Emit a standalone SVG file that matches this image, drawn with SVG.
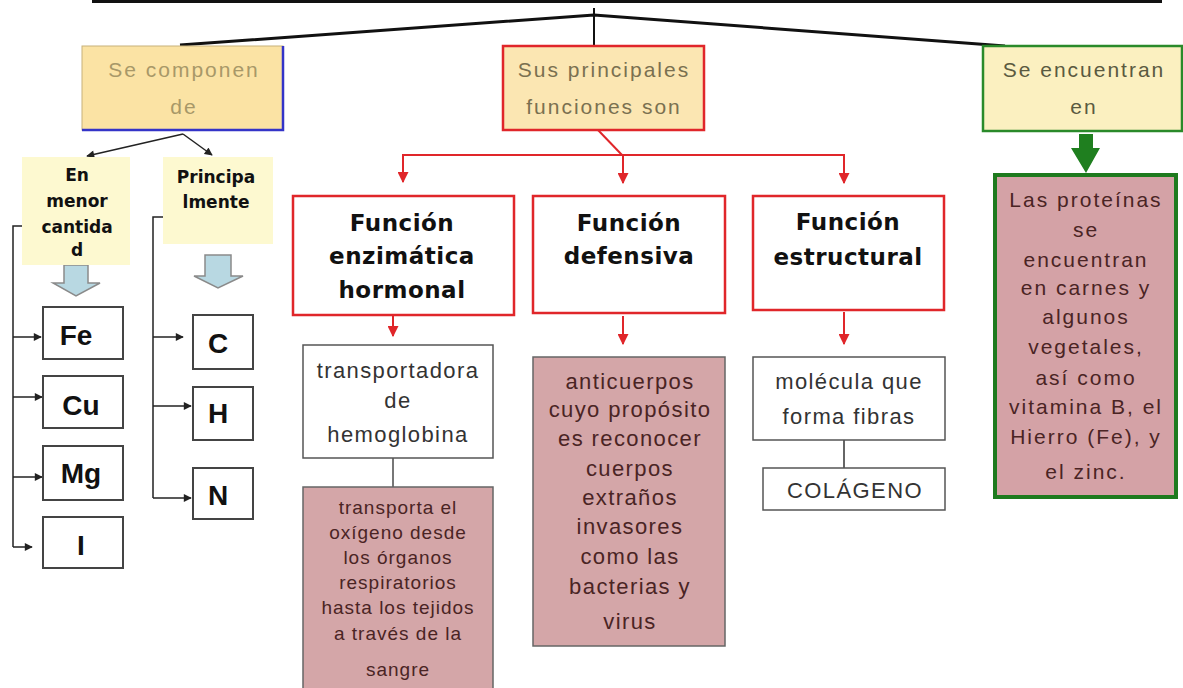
<svg xmlns="http://www.w3.org/2000/svg" width="1183" height="688" viewBox="0 0 1183 688">
<defs>
<marker id="ra" viewBox="0 0 10 10" refX="9" refY="5" markerWidth="11" markerHeight="11" markerUnits="userSpaceOnUse" orient="auto"><path d="M0,0 L10,5 L0,10 z" fill="#e0262a"/></marker>
<marker id="ba" viewBox="0 0 10 10" refX="9" refY="5" markerWidth="9" markerHeight="8" markerUnits="userSpaceOnUse" orient="auto"><path d="M0,0 L10,5 L0,10 z" fill="#222"/></marker>
</defs>
<style>
.t{font-family:"Liberation Sans",Arial,sans-serif;text-anchor:middle}
.top{font-size:21px;letter-spacing:2px}
.body{font-size:22px;letter-spacing:1.4px;fill:#333}
.pink{font-size:22px;letter-spacing:1.4px;fill:#4a2424}
.small{font-size:19px;letter-spacing:1px;fill:#4a2424}
.grn{font-size:21px;letter-spacing:2px;fill:#4a2424}
.fn{font-family:"DejaVu Sans",Verdana,sans-serif;font-weight:bold;font-size:23px;letter-spacing:0.5px;text-anchor:middle;fill:#111}
.lbl{font-family:"DejaVu Sans",Verdana,sans-serif;font-weight:bold;font-size:17px;text-anchor:middle;fill:#111}
.el{font-family:"Liberation Sans",Arial,sans-serif;font-weight:bold;font-size:28px;text-anchor:middle;fill:#111}
.elbox{fill:#fff;stroke:#444;stroke-width:2}
.wbox{fill:#fff;stroke:#555;stroke-width:1.5}
.pbox{fill:#d4a6a8;stroke:#666;stroke-width:1.5}
.fbox{fill:#fff;stroke:#e0262a;stroke-width:2.5}
.red{stroke:#e0262a;stroke-width:2;fill:none}
.blk{stroke:#222;stroke-width:1.5;fill:none}
.barrow{fill:#b8d8e2;stroke:#8a8a8a;stroke-width:1.5}
</style>
<rect width="1183" height="688" fill="#fff"/>

<g id="connectors">
<line x1="92" y1="1.5" x2="1162" y2="1.5" stroke="#111" stroke-width="3"/>
<line x1="594" y1="8" x2="594" y2="46" stroke="#111" stroke-width="2"/>
<polyline points="180,45 594,15 1005,46" fill="none" stroke="#111" stroke-width="3"/>
<line x1="183" y1="134" x2="87" y2="156" class="blk" marker-end="url(#ba)"/>
<line x1="183" y1="134" x2="212" y2="155" class="blk" marker-end="url(#ba)"/>
<polyline points="34,226 13,226 13,547" class="blk"/>
<line x1="13" y1="337" x2="41" y2="337" class="blk" marker-end="url(#ba)"/>
<line x1="13" y1="397" x2="42" y2="397" class="blk" marker-end="url(#ba)"/>
<line x1="13" y1="477" x2="42" y2="477" class="blk" marker-end="url(#ba)"/>
<line x1="13" y1="547" x2="32" y2="547" class="blk" marker-end="url(#ba)"/>
<polyline points="173,217 153,217 153,498" class="blk"/>
<line x1="153" y1="337" x2="183" y2="337" class="blk" marker-end="url(#ba)"/>
<line x1="153" y1="406" x2="191" y2="406" class="blk" marker-end="url(#ba)"/>
<line x1="153" y1="498" x2="191" y2="498" class="blk" marker-end="url(#ba)"/>
<path d="M64,265 H88 V283 H100 L76,296 L53,283 H64 Z" class="barrow"/>
<path d="M205,255 H231 V276 H243 L218,288 L194,276 H205 Z" class="barrow"/>
<line x1="598" y1="130" x2="622" y2="155" class="red"/>
<polyline points="403,181 403,155 844,155 844,181" class="red"/>
<line x1="403" y1="160" x2="403" y2="182" class="red" marker-end="url(#ra)"/>
<line x1="623" y1="155" x2="623" y2="183" class="red" marker-end="url(#ra)"/>
<line x1="844" y1="160" x2="844" y2="183" class="red" marker-end="url(#ra)"/>
<line x1="393" y1="316" x2="393" y2="336" class="red" stroke-width="2.5" marker-end="url(#ra)"/>
<line x1="623" y1="316" x2="623" y2="344" class="red" stroke-width="2.5" marker-end="url(#ra)"/>
<line x1="844" y1="312" x2="844" y2="344" class="red" stroke-width="2.5" marker-end="url(#ra)"/>
<line x1="393" y1="458" x2="393" y2="487" stroke="#777" stroke-width="2"/>
<line x1="844" y1="440" x2="844" y2="468" stroke="#333" stroke-width="1.5"/>
<path d="M1079,134 H1093 V148 H1100 L1086,173 L1071,148 H1079 Z" fill="#1f7f1f"/>
</g>

<g id="se-componen">
<rect x="82" y="46" width="201" height="84" fill="#fbe3a4" stroke="#c8b27a" stroke-width="1"/>
<polyline points="283,46 283,130 82,130" fill="none" stroke="#3434c8" stroke-width="2.5"/>
<text class="t top" x="184" y="77" fill="#a89868">Se componen</text>
<text class="t top" x="184" y="114" fill="#a89868">de</text>
</g>

<g id="sus-principales">
<rect x="503" y="46" width="201" height="84" fill="#fbe6b2" stroke="#e0262a" stroke-width="2.5"/>
<text class="t top" x="604" y="77" fill="#7a7050">Sus principales</text>
<text class="t top" x="604" y="114" fill="#7a7050">funciones son</text>
</g>

<g id="se-encuentran">
<rect x="983" y="46" width="199" height="85" fill="#fbf0c0" stroke="#2a8a2a" stroke-width="2.5"/>
<text class="t top" x="1084" y="77" fill="#5a5a40">Se encuentran</text>
<text class="t top" x="1084" y="114" fill="#5a5a40">en</text>
</g>

<g id="en-menor-cantidad">
<rect x="22" y="157" width="108" height="108" fill="#fdf9d0"/>
<text class="lbl" x="77" y="181">En</text>
<text class="lbl" x="77" y="207">menor</text>
<text class="lbl" x="77" y="233">cantida</text>
<text class="lbl" x="77" y="256">d</text>
</g>

<g id="principalmente">
<rect x="163" y="157" width="110" height="87" fill="#fdf9d0"/>
<text class="lbl" x="216" y="183">Principa</text>
<text class="lbl" x="216" y="208">lmente</text>
</g>

<g id="fe"><rect x="43" y="307" width="80" height="52" class="elbox"/><text class="el" x="76" y="345">Fe</text></g>
<g id="cu"><rect x="43" y="376" width="80" height="52" class="elbox"/><text class="el" x="81" y="415">Cu</text></g>
<g id="mg"><rect x="43" y="446" width="80" height="54" class="elbox"/><text class="el" x="81" y="483">Mg</text></g>
<g id="i"><rect x="43" y="517" width="80" height="51" class="elbox"/><text class="el" x="81" y="555">I</text></g>
<g id="c"><rect x="193" y="315" width="60" height="54" class="elbox"/><text class="el" x="218" y="353">C</text></g>
<g id="h"><rect x="193" y="387" width="60" height="53" class="elbox"/><text class="el" x="218" y="423">H</text></g>
<g id="n"><rect x="193" y="468" width="60" height="51" class="elbox"/><text class="el" x="218" y="505">N</text></g>

<g id="funcion-enzimatica">
<rect x="293" y="196" width="221" height="119" class="fbox"/>
<text class="fn" x="402" y="231">Función</text>
<text class="fn" x="402" y="264">enzimática</text>
<text class="fn" x="402" y="298">hormonal</text>
</g>

<g id="funcion-defensiva">
<rect x="533" y="196" width="192" height="117" class="fbox"/>
<text class="fn" x="629" y="231">Función</text>
<text class="fn" x="629" y="264">defensiva</text>
</g>

<g id="funcion-estructural">
<rect x="753" y="196" width="191" height="114" class="fbox"/>
<text class="fn" x="848" y="230">Función</text>
<text class="fn" x="848" y="265">estructural</text>
</g>

<g id="transportadora">
<rect x="303" y="345" width="190" height="113" class="wbox"/>
<text class="t body" x="398" y="378">transportadora</text>
<text class="t body" x="398" y="408">de</text>
<text class="t body" x="398" y="442">hemoglobina</text>
</g>

<g id="transporta-oxigeno">
<rect x="303" y="487" width="190" height="210" class="pbox"/>
<text class="t small" x="398" y="514">transporta el</text>
<text class="t small" x="398" y="539">oxígeno desde</text>
<text class="t small" x="398" y="564">los órganos</text>
<text class="t small" x="398" y="589">respiratorios</text>
<text class="t small" x="398" y="614">hasta los tejidos</text>
<text class="t small" x="398" y="640">a través de la</text>
<text class="t small" x="398" y="676">sangre</text>
</g>

<g id="anticuerpos">
<rect x="533" y="357" width="192" height="289" class="pbox"/>
<text class="t pink" x="630" y="389">anticuerpos</text>
<text class="t pink" x="630" y="417">cuyo propósito</text>
<text class="t pink" x="630" y="446">es reconocer</text>
<text class="t pink" x="630" y="476">cuerpos</text>
<text class="t pink" x="630" y="505">extraños</text>
<text class="t pink" x="630" y="534">invasores</text>
<text class="t pink" x="630" y="564">como las</text>
<text class="t pink" x="630" y="594">bacterias y</text>
<text class="t pink" x="630" y="629">virus</text>
</g>

<g id="molecula">
<rect x="753" y="357" width="192" height="83" class="wbox"/>
<text class="t body" x="849" y="389">molécula que</text>
<text class="t body" x="849" y="424">forma fibras</text>
</g>

<g id="colageno">
<rect x="763" y="468" width="182" height="42" class="wbox" stroke="#333"/>
<text class="t body" x="855" y="498">COLÁGENO</text>
</g>

<g id="proteinas">
<rect x="995" y="175" width="181" height="322" fill="#d4a2a6" stroke="#1e7a1e" stroke-width="4"/>
<text class="t grn" x="1086" y="207">Las proteínas</text>
<text class="t grn" x="1086" y="237">se</text>
<text class="t grn" x="1086" y="267">encuentran</text>
<text class="t grn" x="1086" y="295">en carnes y</text>
<text class="t grn" x="1086" y="324">algunos</text>
<text class="t grn" x="1086" y="354">vegetales,</text>
<text class="t grn" x="1086" y="385">así como</text>
<text class="t grn" x="1086" y="414">vitamina B, el</text>
<text class="t grn" x="1086" y="444">Hierro (Fe), y</text>
<text class="t grn" x="1086" y="479">el zinc.</text>
</g>
</svg>
